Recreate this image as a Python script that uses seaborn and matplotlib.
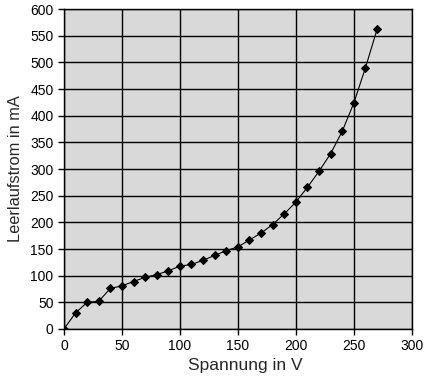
import seaborn as sns
import matplotlib.pyplot as plt
import pandas as pd

# Leerlaufstrom vs. Spannung
spannung = [0, 10, 20, 30, 40, 50, 60, 70, 80, 90, 100, 110, 120, 130, 140,
            150, 160, 170, 180, 190, 200, 210, 220, 230, 240, 250, 260, 270]
strom = [0, 30, 50, 52, 76, 81, 89, 97, 102, 109, 118, 121, 129, 138, 147,
         154, 167, 180, 196, 216, 238, 266, 296, 329, 371, 424, 490, 562]

df = pd.DataFrame({"Spannung": spannung, "Strom": strom})

sns.set_style("white")
plt.rcParams['font.family'] = ['Liberation Sans', 'DejaVu Sans']

fig = plt.figure(figsize=(4.29, 3.81), dpi=100)
ax = fig.add_axes([0.149, 0.1365, 0.811, 0.8395])
ax.set_facecolor("#d9d9d9")

sns.lineplot(data=df, x="Spannung", y="Strom", ax=ax, color="black",
             linewidth=0.8, marker="D", markersize=3.8, markeredgecolor="black")

ax.set_xlim(0, 300)
ax.set_ylim(0, 600)
ax.set_xticks(range(0, 301, 50))
ax.set_yticks(range(0, 601, 50))
ax.grid(True, color="black", linewidth=1)
ax.set_axisbelow(True)
for s in ax.spines.values():
    s.set_color("black")
    s.set_linewidth(1)
ax.tick_params(axis="both", direction="out", length=4, width=1, color="black",
               labelsize=10, labelcolor="black", left=True, bottom=True)

ax.set_xlabel("Spannung in V", fontsize=12.5)
ax.xaxis.set_label_coords(0.52, -0.092)
ax.set_ylabel("Leerlaufstrom in mA", fontsize=11.8, labelpad=5)

fig.savefig("out.png", dpi=100)
